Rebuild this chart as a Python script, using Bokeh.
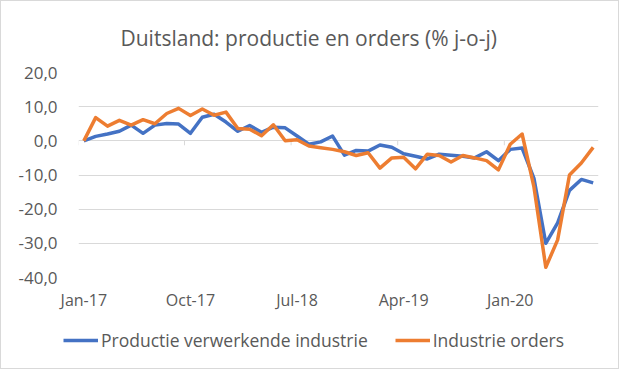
from bokeh.plotting import figure
from bokeh.layouts import column
from bokeh.models import (Range1d, FixedTicker, CustomJSTickFormatter, Legend, LegendItem,
                          ColumnDataSource)
from bokeh.embed import file_html
from bokeh.resources import INLINE

# ---- data (monthly, Jan-17 .. Aug-20) ----
years = ["17", "18", "19", "20"]
month_names = ["Jan", "Feb", "Mar", "Apr", "May", "Jun", "Jul", "Aug", "Sep", "Oct", "Nov", "Dec"]
productie = [0.0, 1.3, 2.0, 2.8, 4.6, 2.2, 4.6, 5.1, 4.9, 2.2, 6.9, 7.8,
             5.5, 2.8, 4.5, 2.5, 4.0, 3.8, 1.4, -1.0, -0.3, 1.4, -4.2, -2.8,
             -3.0, -1.2, -1.9, -3.8, -4.5, -5.3, -3.9, -4.2, -4.5, -5.0, -3.2, -5.8,
             -2.5, -2.1, -11.0, -30.0, -24.0, -14.5, -11.3, -12.3]
orders = [0.0, 6.8, 4.3, 6.0, 4.6, 6.2, 5.0, 8.0, 9.5, 7.4, 9.3, 7.5,
          8.4, 3.6, 3.4, 1.5, 4.7, 0.0, 0.3, -1.5, -2.0, -2.5, -3.2, -4.3,
          -3.5, -8.0, -5.0, -4.8, -8.2, -3.9, -4.3, -6.2, -4.3, -5.0, -5.8, -8.5,
          -1.0, 2.0, -13.5, -37.0, -29.0, -10.0, -6.5, -1.9]
months = [f"{m}-{y}" for y in years for m in month_names][:len(productie)]
tick_labels = ["Jan-17", "Oct-17", "Jul-18", "Apr-19", "Jan-20"]
y_ticks = [-40, -30, -20, -10, 0, 10, 20]
series_names = ["Productie verwerkende industrie", "Industrie orders"]
title_text = "Duitsland: productie en orders (% j-o-j)"

BLUE = "#4472C4"
ORANGE = "#ED7D31"
GREY_TXT = "#595959"
GRID = "#D9D9D9"
FONT = "Open Sans"

idx = list(range(len(months)))
tick_pos = [months.index(t) for t in tick_labels]
src = ColumnDataSource(dict(x=idx, prod=productie, ord=orders, month=months))

# ---------------- main chart ----------------
p = figure(width=617, height=312, output_backend="svg", toolbar_location=None,
           x_range=Range1d(-0.45, len(idx) - 0.55), y_range=Range1d(min(y_ticks), max(y_ticks)),
           min_border_left=77, min_border_right=20, min_border_top=69, min_border_bottom=36,
           title=title_text)
p.frame_align = False
p.outline_line_color = None

p.title.align = "left"
p.title.offset = 42
p.title.text_font = FONT
p.title.text_font_size = "21px"
p.title.text_font_style = "normal"
p.title.text_color = GREY_TXT
p.title.standoff = 41

p.xaxis.ticker = FixedTicker(ticks=tick_pos)
p.xaxis.major_label_overrides = {i: months[i] for i in tick_pos}
p.xaxis.axis_line_color = None
p.xaxis.major_tick_line_color = None
p.xaxis.minor_tick_line_color = None
p.xaxis.major_label_standoff = 5
p.xaxis.major_label_text_font = FONT
p.xaxis.major_label_text_font_size = "16px"
p.xaxis.major_label_text_color = GREY_TXT

p.yaxis.ticker = FixedTicker(ticks=y_ticks)
p.yaxis.formatter = CustomJSTickFormatter(code="return tick.toFixed(1).replace('.', ',');")
p.yaxis.axis_line_color = None
p.yaxis.major_tick_line_color = None
p.yaxis.minor_tick_line_color = None
p.yaxis.major_label_standoff = 15
p.yaxis.major_label_text_font = FONT
p.yaxis.major_label_text_font_size = "17px"
p.yaxis.major_label_text_color = GREY_TXT

p.xgrid.grid_line_color = None
p.ygrid.grid_line_color = GRID
p.ygrid.grid_line_width = 1

# small category tick marks on the zero line
p.segment(x0=[t - 0.5 for t in tick_pos], x1=[t - 0.5 for t in tick_pos],
          y0=[0] * len(tick_pos), y1=[-1.3] * len(tick_pos), line_color=GRID, line_width=1)

p.line("x", "prod", source=src, line_color=BLUE, line_width=3.5, line_join="round")
p.line("x", "ord", source=src, line_color=ORANGE, line_width=3.5, line_join="round")

# ---------------- legend strip ----------------
pl = figure(width=617, height=55, output_backend="svg", toolbar_location=None,
            x_range=Range1d(0, 1), y_range=Range1d(0, 1), x_axis_type=None, y_axis_type=None,
            min_border=0)
pl.frame_align = False
pl.outline_line_color = None
pl.xgrid.grid_line_color = None
pl.ygrid.grid_line_color = None
nodata = ColumnDataSource(dict(x=[float("nan")], y=[float("nan")]))
l1 = pl.line("x", "y", source=nodata, line_color=BLUE, line_width=3.5)
l2 = pl.line("x", "y", source=nodata, line_color=ORANGE, line_width=3.5)

legend = Legend(items=[LegendItem(label=series_names[0], renderers=[l1]),
                       LegendItem(label=series_names[1], renderers=[l2])],
                orientation="horizontal", location=(62, 16),
                glyph_width=35, glyph_height=20, label_standoff=3, spacing=27,
                padding=0, margin=0, border_line_color=None, background_fill_alpha=0,
                label_text_font=FONT, label_text_font_size="17.5px", label_text_color=GREY_TXT)
pl.add_layout(legend, "center")

layout = column(p, pl, spacing=0, styles={"border": "1px solid #D9D9D9"})

open("out.html", "w").write(file_html(layout, INLINE))
